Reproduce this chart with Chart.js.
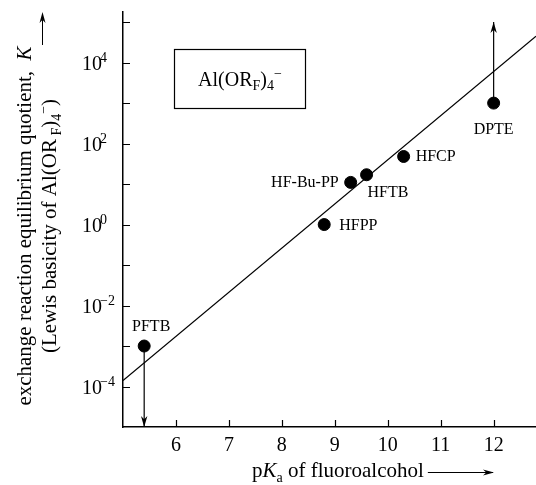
<!DOCTYPE html>
<html>
<head>
<meta charset="utf-8">
<script src="https://cdn.jsdelivr.net/npm/chart.js@4.4.1/dist/chart.umd.min.js"></script>
<style>
  html, body { margin: 0; padding: 0; background: #fff; }
</style>
</head>
<body>
<canvas id="chart" width="536" height="485"></canvas>
<script>
// fluoroalcohols, their pKa and the exchange quotient K
const names = ["PFTB", "HFPP", "HF-Bu-PP", "HFTB", "HFCP", "DPTE"];
const pKa = [5.4, 8.8, 9.3, 9.6, 10.3, 12.0];
const K = [1e-3, 1, 11, 17, 48, 1000];
// limits shown by arrows (PFTB is an upper limit, DPTE a lower limit)
const kBound = [1e-5, null, null, null, null, 1e5];

// least-squares line as drawn in the figure
const fitX = [5.0, 12.8];
const fitK = [1.4e-4, 4.5e4];

// axis ticks
const xTicks = [6, 7, 8, 9, 10, 11, 12];
const yTickExps = [-4, -3, -2, -1, 0, 1, 2, 3, 4, 5];
const yLabelExps = [-4, -2, 0, 2, 4];

const SERIF = "'Liberation Serif', 'Times New Roman', serif";

// label placement relative to each point (px): dx, dy, align
const labelPos = [
  [7, -19, "center"],
  [15, 1, "left"],
  [-12, 0, "right"],
  [1, 18, "left"],
  [12, 0, "left"],
  [0, 27, "center"]
];

// draw text made of pieces: [text, kind] kind = "", "i", "sub", "sup"
function richText(ctx, parts, x, y, size, align) {
  const fontFor = k => (k === "i" ? "italic " : "") +
    Math.round(k === "sub" || k === "sup" ? size * 0.68 : size) + "px " + SERIF;
  let w = 0;
  const widths = parts.map(p => {
    ctx.font = fontFor(p[1]);
    const m = ctx.measureText(p[0]).width;
    w += m;
    return m;
  });
  let cx = align === "center" ? x - w / 2 : align === "right" ? x - w : x;
  ctx.textAlign = "left";
  ctx.textBaseline = "alphabetic";
  parts.forEach((p, i) => {
    ctx.font = fontFor(p[1]);
    const dy = p[1] === "sub" ? size * 0.22 : p[1] === "sup" ? -size * 0.4 : 0;
    ctx.fillText(p[0], cx, y + dy);
    cx += widths[i];
  });
  return w;
}

function arrowHead(ctx, x0, y0, x1, y1, len, half) {
  const a = Math.atan2(y1 - y0, x1 - x0);
  ctx.beginPath();
  ctx.moveTo(x1, y1);
  ctx.lineTo(x1 - len * Math.cos(a) + half * Math.sin(a), y1 - len * Math.sin(a) - half * Math.cos(a));
  ctx.lineTo(x1 - len * 0.7 * Math.cos(a), y1 - len * 0.7 * Math.sin(a));
  ctx.lineTo(x1 - len * Math.cos(a) - half * Math.sin(a), y1 - len * Math.sin(a) + half * Math.cos(a));
  ctx.closePath();
  ctx.fill();
}

const decorations = {
  id: "decorations",
  afterDraw(chart) {
    const ctx = chart.ctx;
    const xs = chart.scales.x, ys = chart.scales.y;
    const area = chart.chartArea;
    ctx.save();
    ctx.fillStyle = "#000";
    ctx.strokeStyle = "#000";
    ctx.lineWidth = 1.2;

    // inward tick marks
    ctx.beginPath();
    xTicks.forEach(v => {
      const px = Math.round(xs.getPixelForValue(v)) + 0.5;
      ctx.moveTo(px, area.bottom);
      ctx.lineTo(px, area.bottom - 7);
    });
    yTickExps.forEach(e => {
      const py = Math.round(ys.getPixelForValue(Math.pow(10, e))) + 0.5;
      ctx.moveTo(area.left, py);
      ctx.lineTo(area.left + 7, py);
    });
    ctx.stroke();

    // tick labels
    ctx.font = "20px " + SERIF;
    ctx.textAlign = "center";
    ctx.textBaseline = "alphabetic";
    xTicks.forEach(v => ctx.fillText(String(v), xs.getPixelForValue(v), area.bottom + 24));
    yLabelExps.forEach(e => {
      const py = ys.getPixelForValue(Math.pow(10, e));
      ctx.font = "20px " + SERIF;
      ctx.textAlign = "left";
      ctx.fillText("10", 82, py + 7);
      ctx.font = "14px " + SERIF;
      ctx.fillText(e < 0 ? "\u2212" + (-e) : String(e), 100, py - 1);
    });

    // x-axis title with arrow
    const tw = richText(ctx, [["p", ""], ["K", "i"], ["a", "sub"], [" of fluoroalcohol", ""]], 252, 477, 21, "left");
    ctx.lineWidth = 1;
    ctx.beginPath();
    ctx.moveTo(252 + tw + 4, 472.5);
    ctx.lineTo(493, 472.5);
    ctx.stroke();
    arrowHead(ctx, 252 + tw, 472.5, 494, 472.5, 11, 3);

    // y-axis title, two rotated lines
    ctx.save();
    ctx.translate(31, 226);
    ctx.rotate(-Math.PI / 2);
    richText(ctx, [["exchange reaction equilibrium quotient,  ", ""], ["K", "i"]], 0, 0, 21, "center");
    ctx.restore();
    ctx.save();
    ctx.translate(56, 226);
    ctx.rotate(-Math.PI / 2);
    richText(ctx, [["(Lewis basicity of Al(OR", ""], [" F", "sub"], [")", ""], ["4", "sub"], ["\u2212", "sup"], [")", ""]], 0, 0, 21, "center");
    ctx.restore();
    ctx.beginPath();
    ctx.moveTo(42.5, 45);
    ctx.lineTo(42.5, 20);
    ctx.stroke();
    arrowHead(ctx, 42.5, 45, 42.5, 12, 11, 3);

    // anion box
    ctx.lineWidth = 1.2;
    ctx.strokeRect(174.5, 49.5, 131, 59);
    richText(ctx, [["Al(OR", ""], ["F", "sub"], [")", ""], ["4", "sub"], ["\u2212", "sup"]], 240, 86, 20, "center");

    // point labels
    const pts = chart.getDatasetMeta(0).data;
    names.forEach((n, i) => {
      const p = pts[i];
      ctx.font = "16px " + SERIF;
      ctx.textAlign = labelPos[i][2];
      ctx.textBaseline = "middle";
      ctx.fillText(n, p.x + labelPos[i][0], p.y + labelPos[i][1]);
    });

    // arrow heads on the limit arrows
    chart.data.datasets.forEach((ds, di) => {
      if (!ds.isLimit) return;
      const d = chart.getDatasetMeta(di).data;
      arrowHead(ctx, d[0].x, d[0].y, d[1].x, d[1].y, 11, 3.2);
    });
    ctx.restore();
  }
};

const datasets = [
  {
    label: "K",
    data: pKa.map((x, i) => ({ x: x, y: K[i] })),
    pointRadius: 6,
    pointBackgroundColor: "#000",
    pointBorderColor: "#000",
    showLine: false,
    order: 0
  },
  {
    label: "fit",
    data: fitX.map((x, i) => ({ x: x, y: fitK[i] })),
    showLine: true,
    borderColor: "#000",
    borderWidth: 1.2,
    pointRadius: 0,
    order: 1
  }
];
kBound.forEach((b, i) => {
  if (b === null) return;
  datasets.push({
    label: names[i] + " limit",
    isLimit: true,
    data: [{ x: pKa[i], y: K[i] }, { x: pKa[i], y: b }],
    showLine: true,
    borderColor: "#000",
    borderWidth: 1.2,
    pointRadius: 0,
    order: 1
  });
});

new Chart(document.getElementById("chart"), {
  type: "scatter",
  data: { datasets: datasets },
  options: {
    responsive: false,
    animation: false,
    events: [],
    layout: { autoPadding: false, padding: { top: 12, right: 0, bottom: 0, left: 0 } },
    plugins: { legend: { display: false }, tooltip: { enabled: false } },
    scales: {
      x: {
        type: "linear",
        min: 5,
        max: 12.8,
        grid: { display: false },
        border: { display: true, color: "#000", width: 1.5 },
        ticks: { display: false },
        afterFit: s => { s.height = 58; }
      },
      y: {
        type: "logarithmic",
        min: 1e-5,
        max: Math.pow(10, 5.25),
        grid: { display: false },
        border: { display: true, color: "#000", width: 1.5 },
        ticks: { display: false },
        afterFit: s => { s.width = 123; }
      }
    }
  },
  plugins: [decorations]
});
</script>
</body>
</html>
